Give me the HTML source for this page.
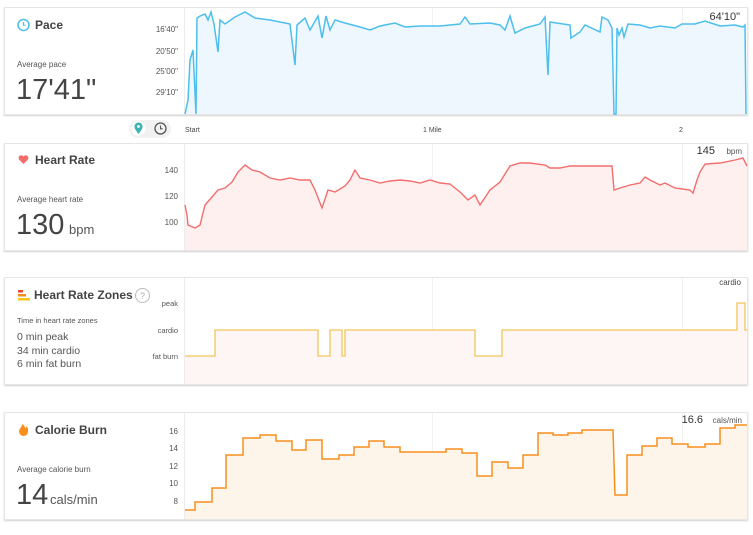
<!DOCTYPE html>
<html><head><meta charset="utf-8"><style>
body{margin:0;background:#fff;width:753px;height:530px;overflow:hidden;font-family:"Liberation Sans",sans-serif;color:#333}
svg text{font-family:"Liberation Sans",sans-serif}
</style></head><body>
<svg width="753" height="530" viewBox="0 0 753 530" xmlns="http://www.w3.org/2000/svg">
<defs><filter id="sh" x="-2%" y="-5%" width="104%" height="115%"><feDropShadow dx="0" dy="1" stdDeviation="0.8" flood-color="#000" flood-opacity="0.18"/></filter></defs>
<g fill="#fff" stroke="#e6e6e6" stroke-width="1" filter="url(#sh)">
<rect x="4.5" y="7.5" width="743" height="107"/>
<rect x="4.5" y="143.5" width="743" height="107"/>
<rect x="4.5" y="277.5" width="743" height="107"/>
<rect x="4.5" y="412.5" width="743" height="107"/>
</g>
<g stroke="#ececec"><line x1="184.5" y1="8" x2="184.5" y2="114"/><line x1="184.5" y1="144" x2="184.5" y2="250"/><line x1="184.5" y1="278" x2="184.5" y2="384"/><line x1="184.5" y1="413" x2="184.5" y2="519"/></g>
<g stroke="#f2f2f2"><line x1="432.5" y1="8" x2="432.5" y2="114"/><line x1="682.5" y1="8" x2="682.5" y2="114"/><line x1="432.5" y1="144" x2="432.5" y2="250"/><line x1="682.5" y1="144" x2="682.5" y2="250"/><line x1="432.5" y1="278" x2="432.5" y2="384"/><line x1="682.5" y1="278" x2="682.5" y2="384"/><line x1="432.5" y1="413" x2="432.5" y2="519"/><line x1="682.5" y1="413" x2="682.5" y2="519"/></g>

<!-- Pace -->
<polygon fill="#edf7fd" points="185,114 188,100 190,60 193,50 196,114 197,18 200,16 205,14 208,20 211,12 214,24 218,52 220,20 225,24 235,17 245,12 255,18 270,20 290,24 295,65 297,25 305,18 310,30 318,16 322,38 326,16 330,30 335,20 345,23 360,27 370,30 380,26 395,23 405,27 420,26 440,26 460,24 465,17 470,24 490,23 500,25 505,30 510,16 515,33 525,28 540,24 545,17 548,75 550,22 570,25 571,38 580,32 585,25 600,32 602,17 608,20 612,28 614,114 616,114 617,28 619,35 622,28 624,37 628,24 640,25 650,28 660,26 675,28 682,24 695,24 705,21 720,26 735,25 743,27 745,25 746,114"/>
<polyline fill="none" stroke="#4cbfec" stroke-width="1.5" points="185,114 188,100 190,60 193,50 196,114 197,18 200,16 205,14 208,20 211,12 214,24 218,52 220,20 225,24 235,17 245,12 255,18 270,20 290,24 295,65 297,25 305,18 310,30 318,16 322,38 326,16 330,30 335,20 345,23 360,27 370,30 380,26 395,23 405,27 420,26 440,26 460,24 465,17 470,24 490,23 500,25 505,30 510,16 515,33 525,28 540,24 545,17 548,75 550,22 570,25 571,38 580,32 585,25 600,32 602,17 608,20 612,28 614,114 616,114 617,28 619,35 622,28 624,37 628,24 640,25 650,28 660,26 675,28 682,24 695,24 705,21 720,26 735,25 743,27 745,25 746,114"/>
<circle cx="23.5" cy="25" r="5.5" fill="none" stroke="#4cbfec" stroke-width="1.5"/><path d="M23.5 22v3.3h2" fill="none" stroke="#4cbfec" stroke-width="1.2"/>
<text x="35" y="29" font-size="12" font-weight="bold" fill="#444">Pace</text>
<text x="17" y="67" font-size="8" fill="#555">Average pace</text>
<text x="16" y="99" font-size="29" fill="#444">17'41"</text>
<g font-size="8" fill="#555" text-anchor="end"><text x="178" y="32">16'40"</text><text x="178" y="54">20'50"</text><text x="178" y="74">25'00"</text><text x="178" y="95">29'10"</text></g>
<text x="740" y="20" font-size="11" fill="#333" text-anchor="end">64'10"</text>

<!-- axis row -->
<rect x="129" y="120" width="42" height="18" rx="9" fill="#f2f2f2"/>
<circle cx="138.5" cy="128.5" r="7" fill="#fff"/>
<path d="M138.5 134 C135 129.5 134.5 128 134.5 126.5 a4 4 0 0 1 8 0 C142.5 128 142 129.5 138.5 134z" fill="#3cb4b4"/><circle cx="138.5" cy="126.5" r="1.4" fill="#fff"/>
<circle cx="160.5" cy="128.5" r="5.5" fill="none" stroke="#555" stroke-width="1.3"/><path d="M160.5 125.5v3.3h2.2" fill="none" stroke="#555" stroke-width="1.1"/>
<g font-size="7" fill="#444"><text x="185" y="132">Start</text><text x="423" y="132">1 Mile</text><text x="679" y="132">2</text></g>

<!-- Heart rate -->
<polygon fill="#fff0f0" points="185,250 185,205 187,215 188,225 195,228 200,225 205,205 212,197 218,190 225,188 232,182 238,172 245,165 252,170 260,172 270,178 280,180 290,178 300,180 310,180 315,190 322,208 328,190 335,192 345,186 350,180 355,170 360,178 370,180 380,183 390,181 400,180 410,181 420,183 430,180 440,183 450,184 460,192 468,200 475,195 480,205 490,190 500,182 510,166 520,163 530,163 545,165 550,168 560,168 570,166 578,166 612,166 614,190 620,188 630,185 640,183 645,177 650,180 660,185 665,183 675,188 690,190 693,193 697,180 700,172 705,164 720,163 735,160 743,158 747,166 747,250"/>
<polyline fill="none" stroke="#f36d6d" stroke-width="1.4" points="185,205 187,215 188,225 195,228 200,225 205,205 212,197 218,190 225,188 232,182 238,172 245,165 252,170 260,172 270,178 280,180 290,178 300,180 310,180 315,190 322,208 328,190 335,192 345,186 350,180 355,170 360,178 370,180 380,183 390,181 400,180 410,181 420,183 430,180 440,183 450,184 460,192 468,200 475,195 480,205 490,190 500,182 510,166 520,163 530,163 545,165 550,168 560,168 570,166 578,166 612,166 614,190 620,188 630,185 640,183 645,177 650,180 660,185 665,183 675,188 690,190 693,193 697,180 700,172 705,164 720,163 735,160 743,158 747,166"/>
<path d="M23.5 164 L19 159.5 a2.6 2.6 0 0 1 4.5 -3 a2.6 2.6 0 0 1 4.5 3z" fill="#f36d6d"/>
<text x="35" y="164" font-size="12" font-weight="bold" fill="#444">Heart Rate</text>
<text x="17" y="202" font-size="8" fill="#555">Average heart rate</text>
<text x="16" y="234" font-size="29" fill="#444">130</text><text x="69" y="234" font-size="13" fill="#555">bpm</text>
<g font-size="8" fill="#555" text-anchor="end"><text x="178" y="173">140</text><text x="178" y="199">120</text><text x="178" y="225">100</text></g>
<text x="715" y="154" font-size="11" fill="#333" text-anchor="end">145</text><text x="742" y="154" font-size="8" fill="#555" text-anchor="end">bpm</text>

<!-- Zones -->
<polygon fill="#fdf6f4" points="185,384 185,356 215,356 215,330 318,330 318,356 330,356 330,330 342,330 342,356 345,356 345,330 475,330 475,356 502,356 502,330 737,330 737,303 745,303 745,330 747,330 747,384"/>
<polyline fill="none" stroke="#f1c75a" stroke-width="1.3" points="185,356 215,356 215,330 318,330 318,356 330,356 330,330 342,330 342,356 345,356 345,330 475,330 475,356 502,356 502,330 737,330 737,303 745,303 745,330 747,330"/>
<rect x="18" y="290" width="5" height="2.5" fill="#e9442e"/><rect x="18" y="294" width="8" height="2.5" fill="#f48b1d"/><rect x="18" y="298" width="12" height="2.5" fill="#f5c518"/>
<text x="34" y="299" font-size="12" font-weight="bold" fill="#444">Heart Rate Zones</text>
<circle cx="142.5" cy="295.5" r="7" fill="none" stroke="#bbb"/><text x="142.5" y="299" font-size="9" fill="#aaa" text-anchor="middle">?</text>
<text x="17" y="323" font-size="7.5" fill="#555">Time in heart rate zones</text>
<g font-size="10.5" fill="#555"><text x="17" y="340">0 min peak</text><text x="17" y="354">34 min cardio</text><text x="17" y="367">6 min fat burn</text></g>
<g font-size="7.5" fill="#555" text-anchor="end"><text x="178" y="306">peak</text><text x="178" y="333">cardio</text><text x="178" y="359">fat burn</text></g>
<text x="741" y="285" font-size="8" fill="#444" text-anchor="end">cardio</text>

<!-- Calories -->
<polygon fill="#fef5ea" points="185,519 185,510 195,510 195,502 212,502 212,488 226,488 226,455 243,455 243,438 260,438 260,435 276,435 276,441 292,441 292,450 306,450 306,440 322,440 322,459 339,459 339,455 354,455 354,447 369,447 369,441 384,441 384,447 400,447 400,452 446,452 446,449 462,449 462,453 477,453 477,476 492,476 492,462 508,462 508,468 523,468 523,455 538,455 538,433 553,433 553,435 568,435 568,433 582,433 582,430 613,430 615,495 627,495 627,455 642,455 642,446 657,446 657,438 672,438 672,444 688,444 688,447 705,447 705,444 720,444 720,428 735,428 735,425 747,425 747,519"/>
<polyline fill="none" stroke="#f78f1e" stroke-width="1.5" points="185,510 195,510 195,502 212,502 212,488 226,488 226,455 243,455 243,438 260,438 260,435 276,435 276,441 292,441 292,450 306,450 306,440 322,440 322,459 339,459 339,455 354,455 354,447 369,447 369,441 384,441 384,447 400,447 400,452 446,452 446,449 462,449 462,453 477,453 477,476 492,476 492,462 508,462 508,468 523,468 523,455 538,455 538,433 553,433 553,435 568,435 568,433 582,433 582,430 613,430 615,495 627,495 627,455 642,455 642,446 657,446 657,438 672,438 672,444 688,444 688,447 705,447 705,444 720,444 720,428 735,428 735,425 747,425"/>
<path d="M23.5 436 a4.5 4.5 0 0 1 -4.3 -5.5 c0.6 -2.5 2.6 -3.5 3 -6.5 c2 1.5 3 3 3.3 4.5 c0.6 -0.8 0.9 -1.6 1 -2.4 c1.5 1.5 1.8 3 1.5 4.8 a4.5 4.5 0 0 1 -4.5 5.1z" fill="#f78f1e"/>
<text x="35" y="434" font-size="12" font-weight="bold" fill="#444">Calorie Burn</text>
<text x="17" y="472" font-size="8" fill="#555">Average calorie burn</text>
<text x="16" y="504" font-size="29" fill="#444">14</text><text x="50" y="504" font-size="13" fill="#555">cals/min</text>
<g font-size="8" fill="#555" text-anchor="end"><text x="178" y="434">16</text><text x="178" y="451">14</text><text x="178" y="469">12</text><text x="178" y="486">10</text><text x="178" y="504">8</text></g>
<text x="703" y="423" font-size="11" fill="#333" text-anchor="end">16.6</text><text x="742" y="423" font-size="8" fill="#555" text-anchor="end">cals/min</text>
</svg>
</body></html>
